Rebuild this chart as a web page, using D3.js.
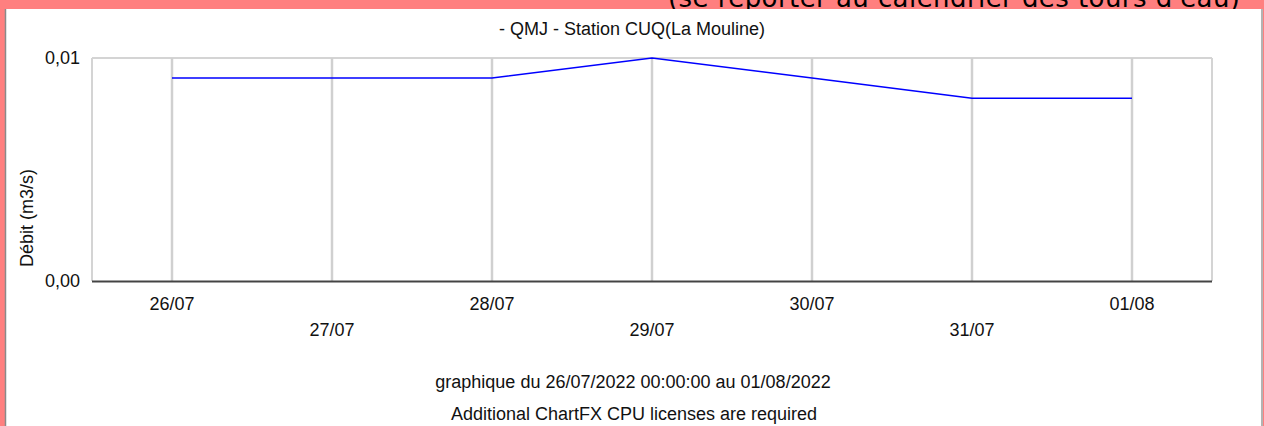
<!DOCTYPE html>
<html>
<head>
<meta charset="utf-8">
<script src="https://cdn.jsdelivr.net/npm/d3@7"></script>
<style>
  html, body { margin: 0; padding: 0; background: #ff7f7f; }
  svg { display: block; }
</style>
</head>
<body>
<svg id="chart"></svg>
<script>
// values
const days = ["2022-07-26", "2022-07-27", "2022-07-28", "2022-07-29", "2022-07-30", "2022-07-31", "2022-08-01"];
const debit = [0.0091, 0.0091, 0.0091, 0.0100, 0.0091, 0.0082, 0.0082];
const dayLabels = ["26/07", "27/07", "28/07", "29/07", "30/07", "31/07", "01/08"];
const yTicks = [0, 0.01];
const yTickLabels = ["0,00", "0,01"];

const title = "- QMJ - Station CUQ(La Mouline)";
const yTitle = "Débit (m3/s)";
const footer1 = "graphique du 26/07/2022 00:00:00 au 01/08/2022";
const footer2 = "Additional ChartFX CPU licenses are required";
const banner = "(se reporter au calendrier des tours d'eau)";

const W = 1264, H = 426;
const plot = { left: 92, right: 1212, top: 58, bottom: 281 };
const font = "'Liberation Sans', Arial, sans-serif";
const fs = 18;

const parse = d3.timeParse("%Y-%m-%d");
const dates = days.map(parse);
const halfDay = 12 * 3600 * 1000;

const x = d3.scaleTime()
    .domain([new Date(+dates[0] - halfDay), new Date(+dates[dates.length - 1] + halfDay)])
    .range([plot.left, plot.right]);
const y = d3.scaleLinear()
    .domain([0, 0.01])
    .range([plot.bottom, plot.top]);

const svg = d3.select("#chart").attr("width", W).attr("height", H);

// pink page background with the clipped banner text
svg.append("rect").attr("width", W).attr("height", H).attr("fill", "#ff7f7f");
svg.append("text")
    .attr("x", 668).attr("y", 7)
    .attr("font-family", "'DejaVu Sans', Verdana, sans-serif")
    .attr("font-size", 26)
    .attr("textLength", 572)
    .attr("fill", "#000")
    .text(banner);

// white panel
svg.append("rect").attr("x", 5).attr("y", 9).attr("width", 1258).attr("height", H - 9)
    .attr("fill", "#fff");
svg.append("line").attr("x1", 5.5).attr("x2", 5.5).attr("y1", 9).attr("y2", H)
    .attr("stroke", "#8a8a8a").attr("stroke-width", 1.5);
svg.append("line").attr("x1", 1262).attr("x2", 1262).attr("y1", 9).attr("y2", H)
    .attr("stroke", "#9a9a9a").attr("stroke-width", 1.5);

// plot frame
const frame = svg.append("g").attr("stroke", "#d4d4d4").attr("stroke-width", 2);
frame.append("line").attr("x1", plot.left).attr("x2", plot.right).attr("y1", plot.top).attr("y2", plot.top);
frame.append("line").attr("x1", plot.left).attr("x2", plot.left).attr("y1", plot.top).attr("y2", plot.bottom);
frame.append("line").attr("x1", plot.right).attr("x2", plot.right).attr("y1", plot.top).attr("y2", plot.bottom);

// vertical grid at each day
svg.append("g").selectAll("line")
    .data(dates).enter()
    .append("line")
    .attr("x1", d => x(d)).attr("x2", d => x(d))
    .attr("y1", plot.top).attr("y2", plot.bottom)
    .attr("stroke", "#d0d0d0")
    .attr("stroke-width", 2.5);

// bottom axis line
svg.append("line")
    .attr("x1", plot.left).attr("x2", plot.right)
    .attr("y1", plot.bottom + 0.5).attr("y2", plot.bottom + 0.5)
    .attr("stroke", "#444").attr("stroke-width", 2);

// series
const line = d3.line()
    .x((d, i) => x(dates[i]))
    .y(d => y(d));
svg.append("path")
    .datum(debit)
    .attr("d", line)
    .attr("fill", "none")
    .attr("stroke", "#0000ff")
    .attr("stroke-width", 1.5);

// y tick labels
svg.append("g").selectAll("text")
    .data(yTicks).enter()
    .append("text")
    .attr("x", 80)
    .attr("y", d => y(d))
    .attr("dy", "0.36em")
    .attr("text-anchor", "end")
    .attr("font-family", font).attr("font-size", fs).attr("fill", "#111")
    .text((d, i) => yTickLabels[i]);

// x tick labels, staggered on two rows
svg.append("g").selectAll("text")
    .data(dates).enter()
    .append("text")
    .attr("x", d => x(d))
    .attr("y", (d, i) => i % 2 === 0 ? 310 : 336)
    .attr("text-anchor", "middle")
    .attr("font-family", font).attr("font-size", fs).attr("fill", "#111")
    .text((d, i) => dayLabels[i]);

// titles
svg.append("text")
    .attr("x", 632).attr("y", 35)
    .attr("text-anchor", "middle")
    .attr("font-family", font).attr("font-size", fs).attr("fill", "#111")
    .text(title);

svg.append("text")
    .attr("transform", "translate(33,267) rotate(-90)")
    .attr("font-family", font).attr("font-size", fs).attr("fill", "#111")
    .text(yTitle);

svg.append("text")
    .attr("x", 633).attr("y", 388)
    .attr("text-anchor", "middle")
    .attr("font-family", font).attr("font-size", fs).attr("fill", "#111")
    .text(footer1);

svg.append("text")
    .attr("x", 634).attr("y", 420)
    .attr("text-anchor", "middle")
    .attr("font-family", font).attr("font-size", fs).attr("fill", "#111")
    .text(footer2);
</script>
</body>
</html>
